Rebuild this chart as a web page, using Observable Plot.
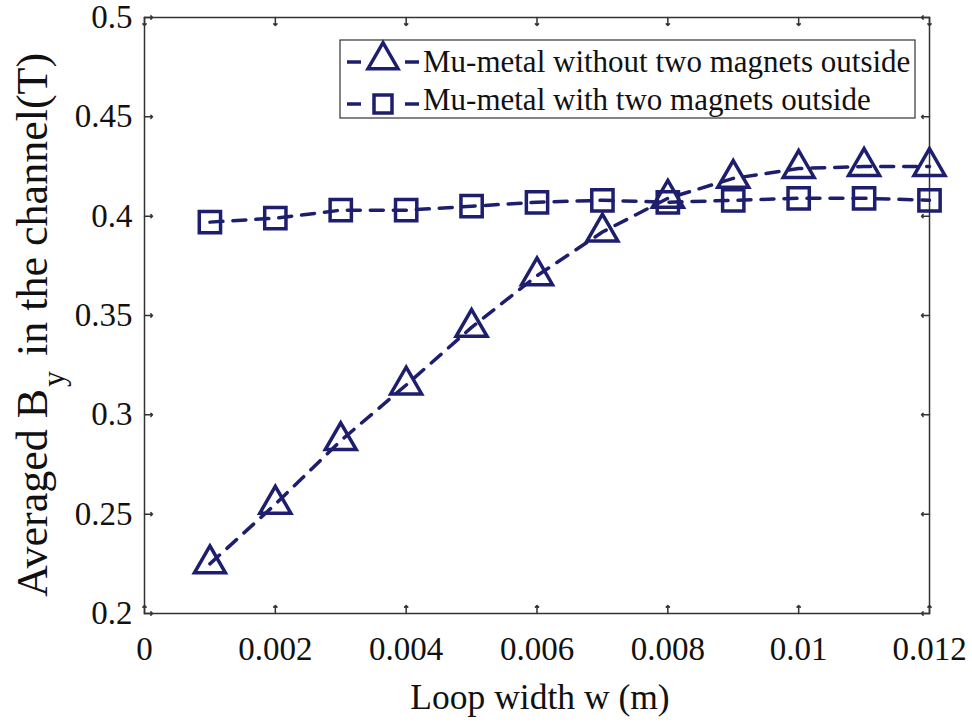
<!DOCTYPE html>
<html>
<head>
<meta charset="utf-8">
<script src="https://cdn.jsdelivr.net/npm/d3@7"></script>
<script src="https://cdn.jsdelivr.net/npm/@observablehq/plot@0.6"></script>
<style>
  html, body { margin: 0; padding: 0; background: #fff; }
  #chart svg text { font-family: "Liberation Serif", "Times New Roman", serif !important; }
</style>
</head>
<body>
<div id="chart"></div>
<script>
const loopWidth = [0.001, 0.002, 0.003, 0.004, 0.005, 0.006, 0.007, 0.008, 0.009, 0.010, 0.011, 0.012];
const withoutMagnets = [0.225, 0.255, 0.287, 0.315, 0.344, 0.370, 0.392, 0.409, 0.419, 0.424, 0.425, 0.425];
const withMagnets = [0.397, 0.399, 0.403, 0.403, 0.405, 0.407, 0.408, 0.407, 0.408, 0.409, 0.409, 0.408];
const xTicks = [0, 0.002, 0.004, 0.006, 0.008, 0.010, 0.012];
const yTicks = [0.2, 0.25, 0.3, 0.35, 0.4, 0.45, 0.5];
const seriesNames = ["Mu-metal without two magnets outside", "Mu-metal with two magnets outside"];
const xLabel = "Loop width w (m)";
const yLabelParts = ["Averaged B", "y", " in the channel(T)"];

const navy = "#1e1e6e";
const font = "Liberation Serif, Times New Roman, serif";
const fmt = d3.format("~g");

const rowsA = loopWidth.map((x, i) => ({x, y: withoutMagnets[i]}));
const rowsB = loopWidth.map((x, i) => ({x, y: withMagnets[i]}));
const xDom = [xTicks[0], xTicks[xTicks.length - 1]];
const yDom = [yTicks[0], yTicks[yTicks.length - 1]];

const chart = Plot.plot({
  width: 972,
  height: 722,
  marginLeft: 144,
  marginRight: 43,
  marginTop: 17,
  marginBottom: 109,
  style: "font-family: 'Liberation Serif', serif; font-size: 33px; color: #111; background: #fff;",
  x: {domain: xDom},
  y: {domain: yDom},
  marks: [
    Plot.axisX({ticks: xTicks, tickSize: 0, tickPadding: 23, tickFormat: fmt, label: null, fontSize: 33, fontFamily: font}),
    Plot.axisY({ticks: yTicks, tickSize: 0, tickPadding: 12, tickFormat: fmt, label: null, fontSize: 33, fontFamily: font}),
    Plot.vector(xTicks, {x: d => d, y: yDom[0], length: 8, rotate: 0, anchor: "start", stroke: "#333", strokeWidth: 1.5}),
    Plot.vector(xTicks, {x: d => d, y: yDom[1], length: 8, rotate: 180, anchor: "start", stroke: "#333", strokeWidth: 1.5}),
    Plot.vector(yTicks, {y: d => d, x: xDom[0], length: 8, rotate: 90, anchor: "start", stroke: "#333", strokeWidth: 1.5}),
    Plot.vector(yTicks, {y: d => d, x: xDom[1], length: 8, rotate: -90, anchor: "start", stroke: "#333", strokeWidth: 1.5}),
    Plot.frame({stroke: "#333", strokeWidth: 1.5}),
    Plot.line(rowsB, {x: "x", y: "y", stroke: navy, strokeWidth: 3.5, strokeDasharray: "13,10"}),
    Plot.dot(rowsB, {x: "x", y: "y", symbol: "square", r: 12, stroke: navy, strokeWidth: 3.5, fill: "none"}),
    Plot.line(rowsA, {x: "x", y: "y", stroke: navy, strokeWidth: 3.5, strokeDasharray: "13,10"}),
    Plot.dot(rowsA, {x: "x", y: "y", symbol: "triangle", r: 11.5, stroke: navy, strokeWidth: 3.5, fill: "none"})
  ]
});

document.getElementById("chart").appendChild(chart);

const svg = d3.select(chart);

// x-axis label
svg.append("text")
  .attr("x", 540).attr("y", 709)
  .attr("text-anchor", "middle")
  .attr("font-family", font).attr("font-size", 35.5).attr("fill", "#111")
  .text(xLabel);

// y-axis label with subscript
const yl = svg.append("text")
  .attr("transform", "translate(47,597) rotate(-90)")
  .attr("text-anchor", "start")
  .attr("font-family", font).attr("font-size", 44).attr("fill", "#111");
yl.append("tspan").text(yLabelParts[0]);
yl.append("tspan").attr("dx", 2).attr("dy", 17).attr("font-size", 32).text(yLabelParts[1]);
yl.append("tspan").attr("dx", 4).attr("dy", -17).text(yLabelParts[2]);

// legend
const lg = svg.append("g").attr("text-anchor", "start");
lg.append("rect").attr("x", 340).attr("y", 40).attr("width", 575).attr("height", 78)
  .attr("fill", "#fff").attr("stroke", "#333").attr("stroke-width", 1.2);
const rowsY = [62, 104];
const syms = [d3.symbolTriangle, d3.symbolSquare];
const symSize = [Math.sqrt(3) / 4 * 30 * 30, 18 * 18];
seriesNames.forEach((name, i) => {
  const y = rowsY[i];
  lg.append("line").attr("x1", 347).attr("x2", 361).attr("y1", y).attr("y2", y)
    .attr("stroke", navy).attr("stroke-width", 3.5);
  lg.append("line").attr("x1", 405).attr("x2", 419).attr("y1", y).attr("y2", y)
    .attr("stroke", navy).attr("stroke-width", 3.5);
  lg.append("path").attr("transform", `translate(383,${i === 0 ? y - 2 : y})`)
    .attr("d", d3.symbol(syms[i], symSize[i]))
    .attr("fill", "none").attr("stroke", navy).attr("stroke-width", 3.5);
  lg.append("text").attr("x", 423).attr("y", i === 0 ? 72 : 110)
    .attr("text-anchor", "start")
    .attr("font-family", font).attr("font-size", 31).attr("fill", "#111")
    .text(name);
});
</script>
</body>
</html>
